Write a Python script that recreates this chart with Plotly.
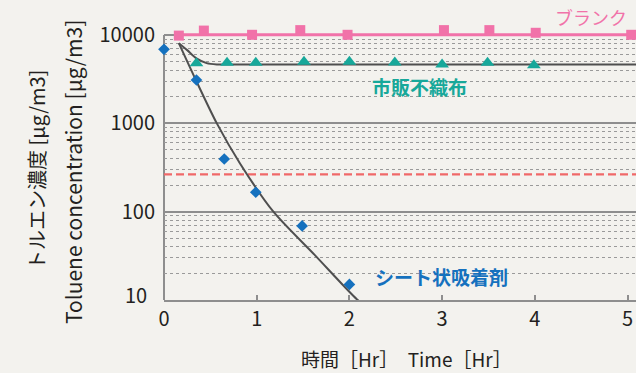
import plotly.graph_objects as go

# ---- data -------------------------------------------------------------
# blank chamber (no adsorbent)
time_blank = [0.16, 0.43, 0.95, 1.47, 1.98, 3.02, 3.51, 4.01, 5.04]
conc_blank = [9870, 11250, 10080, 11390, 10080, 11390, 11390, 10620, 10080]
blank_level_time = [0.16, 5.1]
blank_level_conc = [10080, 10080]

# commercial non-woven fabric
time_fabric = [0.35, 0.68, 0.99, 1.51, 2.0, 2.49, 3.0, 3.49, 3.99]
conc_fabric = [4800, 4850, 4850, 5000, 5000, 4900, 4650, 4850, 4550]
fabric_fit_time = [0.16, 0.25, 0.35, 0.46, 0.57, 0.8, 5.1]
fabric_fit_conc = [8100, 6760, 5450, 4820, 4660, 4640, 4640]

# sheet-type adsorbent
time_sheet = [0, 0.35, 0.65, 0.99, 1.49, 2.0]
conc_sheet = [6900, 3100, 395, 166, 69, 15]
sheet_fit_time = [0.16, 0.32, 0.57, 0.82, 1.18, 1.63, 2.08, 2.15]
sheet_fit_conc = [8100, 3500, 1000, 352, 100, 32, 10.2, 9]

# indoor guideline value
guide_time = [0, 5.1]
guide_conc = [265, 265]

x_ticks = [0, 1, 2, 3, 4, 5]
x_ticktext = ["0", "1", "2", "3", "4", "5"]
y_ticks = [10, 100, 1000, 10000]
y_ticktext = ["10", "100", "1000", "10000"]

# ---- colours ----------------------------------------------------------
PINK = "#F172A9"
TEAL = "#17A89A"
BLUE = "#1571BE"
RED = "#F06868"
CURVE = "#4F4F4F"
GRID = "#8E8E8E"
BG = "#F3F2EE"
INK = "#231F20"
FONT = "Noto Sans CJK JP"

# plot-area geometry (pixels)
LEFT, TOP, BOTTOM, WIDTH, HEIGHT = 164, 28, 300, 636, 373
PX_PER_HOUR = 92.7
PX_PER_DECADE = 88.3
plot_w = WIDTH - LEFT
plot_h = BOTTOM - TOP
y_top = 1 + plot_h / PX_PER_DECADE


def px(xpix):
    return (xpix - LEFT) / plot_w


def py(ypix):
    return (BOTTOM - ypix) / plot_h


fig = go.Figure()

# fitted curves and reference levels
fig.add_trace(go.Scatter(x=guide_time, y=guide_conc, mode="lines",
                         line=dict(color=RED, width=2.2, dash="8px,4px")))
fig.add_trace(go.Scatter(x=sheet_fit_time, y=sheet_fit_conc, mode="lines",
                         line=dict(color=CURVE, width=2, shape="spline", smoothing=0.8)))
fig.add_trace(go.Scatter(x=fabric_fit_time, y=fabric_fit_conc, mode="lines",
                         line=dict(color=CURVE, width=2, shape="spline", smoothing=0.8)))
fig.add_trace(go.Scatter(x=blank_level_time, y=blank_level_conc, mode="lines",
                         line=dict(color=PINK, width=3)))

# measured points
fig.add_trace(go.Scatter(x=time_fabric, y=conc_fabric, mode="markers", cliponaxis=False,
                         marker=dict(symbol="triangle-up", size=12, color=TEAL)))
fig.add_trace(go.Scatter(x=time_sheet, y=conc_sheet, mode="markers", cliponaxis=False,
                         marker=dict(symbol="diamond", size=9, color=BLUE)))
fig.add_trace(go.Scatter(x=time_blank, y=conc_blank, mode="markers", cliponaxis=False,
                         marker=dict(symbol="square", size=10, color=PINK)))

# the lowest decade label sits a little above its gridline, clear of the x labels
y_labels_on_axis = [""] + y_ticktext[1:]

fig.update_layout(
    width=WIDTH, height=HEIGHT,
    margin=dict(l=LEFT, r=0, t=TOP, b=HEIGHT - BOTTOM),
    paper_bgcolor=BG, plot_bgcolor=BG,
    showlegend=False,
    font=dict(family=FONT, color=INK),
    xaxis=dict(
        range=[0, plot_w / PX_PER_HOUR],
        tickmode="array", tickvals=x_ticks, ticktext=x_ticktext,
        ticks="inside", ticklen=5, tickwidth=2, tickcolor=GRID,
        showline=True, linecolor=GRID, linewidth=2,
        showgrid=False, zeroline=False,
        tickfont=dict(size=20, family=FONT, color=INK),
    ),
    yaxis=dict(
        type="log", range=[1, y_top],
        tickmode="array", tickvals=y_ticks, ticktext=y_labels_on_axis,
        ticks="", showline=False, zeroline=False,
        showgrid=True, gridcolor=GRID, gridwidth=2,
        minor=dict(dtick="D1", showgrid=True, gridcolor="#9A9A9A",
                   griddash="dot", gridwidth=1, ticks=""),
        tickfont=dict(size=20, family=FONT, color=INK),
        ticklabelstandoff=8,
    ),
    shapes=[dict(type="line", xref="paper", yref="paper",
                 x0=0, x1=0, y0=0, y1=3 * PX_PER_DECADE / plot_h,
                 line=dict(color=GRID, width=2), layer="below")],
)

annotations = [
    # lowest y tick label
    dict(text=y_ticktext[0], x=px(149), y=py(294), xanchor="right",
         font=dict(size=20, color=INK)),
    # axis titles
    dict(text="時間［Hr］　Time［Hr］", x=px(406), y=py(358),
         font=dict(size=19, color=INK)),
    dict(text="トルエン濃度 [µg/m3]", x=px(37), y=py(170), textangle=-90,
         font=dict(size=20, color=INK)),
    dict(text="Toluene concentration [µg/m3]", x=px(73), y=py(172), textangle=-90,
         font=dict(size=21, color=INK)),
    # series labels
    dict(text="ブランク", x=px(591), y=py(16.7),
         font=dict(size=18, color=PINK)),
    dict(text="<b>市販不織布</b>", x=px(419), y=py(86.7),
         font=dict(size=19, color=TEAL)),
    dict(text="<b>シート状吸着剤</b>", x=px(441), y=py(276.7),
         font=dict(size=19, color=BLUE)),
]
for a in annotations:
    a.setdefault("xanchor", "center")
    a.update(xref="paper", yref="paper", yanchor="middle", showarrow=False)
fig.update_layout(annotations=annotations)

fig.write_html("out.html")
